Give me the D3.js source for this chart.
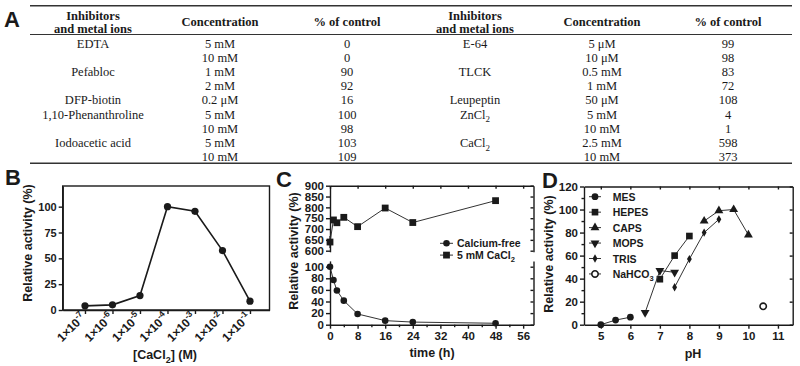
<!DOCTYPE html>
<html>
<head>
<meta charset="utf-8">
<script src="https://cdn.jsdelivr.net/npm/d3@7"></script>
<style>
  body { margin: 0; background: #fff; }
  svg { display: block; }
</style>
</head>
<body>
<svg id="fig" width="800" height="366"></svg>
<script>
// ---------- data ----------
// A: inhibitor table (left half / right half)
const leftNames = ['EDTA', '', 'Pefabloc', '', 'DFP-biotin', '1,10-Phenanthroline', '', 'Iodoacetic acid', ''];
const leftConc  = ['5 mM', '10 mM', '1 mM', '2 mM', '0.2 μM', '5 mM', '10 mM', '5 mM', '10 mM'];
const leftPct   = ['0', '0', '90', '92', '16', '100', '98', '103', '109'];
const rightNames = ['E-64', '', 'TLCK', '', 'Leupeptin', 'ZnCl_2', '', 'CaCl_2', ''];
const rightConc  = ['5 μM', '10 μM', '0.5 mM', '1 mM', '50 μM', '5 mM', '10 mM', '2.5 mM', '10 mM'];
const rightPct   = ['99', '98', '83', '72', '108', '4', '1', '598', '373'];

// B: CaCl2 concentration series
const caExponents = [-7, -6, -5, -4, -3, -2, -1];
const caActivity  = [4, 5, 14, 100, 95.5, 57.5, 8.5];

// C: stability over time
const timeH        = [0, 1, 2, 4, 8, 16, 24, 48];
const calciumFree  = [100, 77, 59, 41.5, 18.5, 7, 4.5, 2.5];
const withCaCl2    = [640, 742, 729, 754, 711, 797, 730, 831];
const withCaCl2Err = [28, 0, 0, 0, 0, 0, 0, 0];

// D: pH profile, one pair of arrays per buffer
const mesPH = [5, 5.5, 6],           mesAct = [0, 4, 6.5];
const mopsPH = [6.5, 7, 7.5],        mopsAct = [10.5, 47, 45.5];
const hepesPH = [7, 7.5, 8],         hepesAct = [39.5, 60, 77];
const trisPH = [7.5, 8, 8.5, 9],     trisAct = [32.5, 57, 80, 91.5];
const capsPH = [8.5, 9, 9.5, 10],    capsAct = [90, 99, 100, 78];
const nahco3PH = [10.5],             nahco3Act = [16];

const SANS = "'Liberation Sans', Arial, sans-serif";
const SERIF = "'Liberation Serif', 'Times New Roman', serif";
const INK = '#1a1a1a';

const svg = d3.select('#fig');

// text with _2 subscripts and ^{..} superscripts
function rich(sel, str, size) {
  const parts = str.split(/(_\d|\^\{[^}]*\})/).filter(p => p !== '');
  let shift = 0;
  parts.forEach(p => {
    if (p[0] === '_') {
      sel.append('tspan').attr('dy', size * 0.3 - shift).attr('font-size', size * 0.72).text(p.slice(1));
      shift = size * 0.3;
    } else if (p[0] === '^') {
      sel.append('tspan').attr('dy', -size * 0.42 - shift).attr('font-size', size * 0.72).text(p.slice(2, -1));
      shift = -size * 0.42;
    } else {
      sel.append('tspan').attr('dy', -shift).text(p);
      shift = 0;
    }
  });
}

function styleAxis(g, size) {
  g.attr('font-family', SANS).attr('font-size', size).attr('font-weight', 'bold')
    .attr('color', INK);
  g.selectAll('path, line').attr('stroke-width', 1.4);
}

function panelLabel(txt, x, y) {
  svg.append('text').attr('x', x).attr('y', y)
    .attr('font-family', SANS).attr('font-weight', 'bold').attr('font-size', 22)
    .attr('fill', INK).text(txt);
}

function yTitle(x, y) {
  svg.append('text')
    .attr('transform', `translate(${x},${y}) rotate(-90)`)
    .attr('text-anchor', 'middle')
    .attr('font-family', SANS).attr('font-weight', 'bold').attr('font-size', 12.5)
    .attr('fill', INK).text('Relative activity (%)');
}

// =========================================================
//  A — table
// =========================================================
panelLabel('A', 4, 27);
const ruleX = [30, 792];
const rule = (y, w) => svg.append('line')
  .attr('x1', ruleX[0]).attr('x2', ruleX[1]).attr('y1', y).attr('y2', y)
  .attr('stroke', '#333').attr('stroke-width', w);
rule(5.7, 1.5);
rule(34.5, 1);
rule(163.3, 1.5);

const colX = { left: [93, 220, 347], right: [475, 602, 728] };
const tableFont = 12.5;
const rowY = i => 47.6 + i * 14.18;

['left', 'right'].forEach(side => {
  const [cn, cc, cp] = colX[side];
  const head = svg.append('g')
    .attr('font-family', SERIF).attr('font-weight', 'bold').attr('font-size', tableFont)
    .attr('fill', INK).attr('text-anchor', 'middle');
  head.append('text').attr('x', cn).attr('y', 19.5).text('Inhibitors');
  head.append('text').attr('x', cn).attr('y', 32.5).text('and metal ions');
  head.append('text').attr('x', cc).attr('y', 26).text('Concentration');
  head.append('text').attr('x', cp).attr('y', 26).text('% of control');

  const names = side === 'left' ? leftNames : rightNames;
  const conc = side === 'left' ? leftConc : rightConc;
  const pct = side === 'left' ? leftPct : rightPct;
  const body = svg.append('g')
    .attr('font-family', SERIF).attr('font-size', tableFont)
    .attr('fill', INK).attr('text-anchor', 'middle');
  names.forEach((n, i) => {
    if (n) rich(body.append('text').attr('x', cn).attr('y', rowY(i)), n, tableFont);
    body.append('text').attr('x', cc).attr('y', rowY(i)).text(conc[i]);
    body.append('text').attr('x', cp).attr('y', rowY(i)).text(pct[i]);
  });
});

// =========================================================
//  B — activity vs CaCl2
// =========================================================
panelLabel('B', 5, 185);
{
  const x = d3.scaleLog().domain([10 ** -7.81, 10 ** -0.29]).range([62.7, 269.5]);
  const y = d3.scaleLinear().domain([0, 120]).range([310, 186]);
  const conc = caExponents.map(e => 10 ** e);

  // frame
  svg.append('rect').attr('x', 62.7).attr('y', 186).attr('width', 269.5 - 62.7).attr('height', 310 - 186)
    .attr('fill', 'none').attr('stroke', INK).attr('stroke-width', 1.4);

  svg.append('g').attr('transform', 'translate(62.7,0)')
    .call(d3.axisLeft(y).tickValues([0, 25, 50, 75, 100]).tickSize(4).tickPadding(2).tickSizeOuter(0))
    .call(g => styleAxis(g, 11));

  const xa = svg.append('g').attr('transform', 'translate(0,310)')
    .call(d3.axisBottom(x).tickValues(conc).tickFormat(() => '').tickSize(4).tickSizeOuter(0))
    .call(g => styleAxis(g, 12));
  xa.selectAll('.tick').each(function (d, i) {
    const t = d3.select(this).append('text')
      .attr('fill', INK).attr('text-anchor', 'end')
      .attr('transform', 'translate(1,8) rotate(-45)');
    rich(t, `1×10^{${caExponents[i]}}`, 12);
  });

  svg.append('path').datum(caActivity)
    .attr('fill', 'none').attr('stroke', INK).attr('stroke-width', 1.6)
    .attr('d', d3.line().x((d, i) => x(conc[i])).y(d => y(d)));
  svg.append('g').selectAll('circle').data(caActivity).join('circle')
    .attr('cx', (d, i) => x(conc[i])).attr('cy', d => y(d)).attr('r', 3.6).attr('fill', INK);

  yTitle(32, 243);
  const xt = svg.append('text').attr('x', 165).attr('y', 359).attr('text-anchor', 'middle')
    .attr('font-family', SANS).attr('font-weight', 'bold').attr('font-size', 12.5).attr('fill', INK);
  rich(xt, '[CaCl_2] (M)', 12.5);
}

// =========================================================
//  C — stability over time (broken y axis)
// =========================================================
panelLabel('C', 276, 187);
{
  const x = d3.scaleLinear().domain([0, 59]).range([330, 533.5]);
  const yUp = d3.scaleLinear().domain([600, 900]).range([250.7, 185.7]);
  const yLo = d3.scaleLinear().domain([0, 110]).range([324.7, 260.9]);
  const yUpAxis = yUp.copy().domain([595, 900]).range([yUp(595), yUp(900)]);

  const upTicks = d3.range(600, 901, 50);
  const loTicks = d3.range(0, 101, 20);
  const xTicks = d3.range(0, 57, 8);
  const xMinor = d3.range(4, 57, 8);

  // left axis (two segments)
  svg.append('g').attr('transform', 'translate(330,0)')
    .call(d3.axisLeft(yUpAxis).tickValues(upTicks).tickSize(4).tickPadding(2).tickSizeOuter(0))
    .call(g => styleAxis(g, 11.5));
  svg.append('g').attr('transform', 'translate(330,0)')
    .call(d3.axisLeft(yLo).tickValues(loTicks).tickSize(4).tickPadding(2).tickSizeOuter(0))
    .call(g => styleAxis(g, 11.5));
  // right frame (two segments, inward ticks)
  svg.append('g').attr('transform', 'translate(533.5,0)')
    .call(d3.axisRight(yUpAxis).tickValues(upTicks).tickSize(-3).tickFormat('').tickSizeOuter(0))
    .call(g => styleAxis(g, 11));
  svg.append('g').attr('transform', 'translate(533.5,0)')
    .call(d3.axisRight(yLo).tickValues(loTicks).tickSize(-3).tickFormat('').tickSizeOuter(0))
    .call(g => styleAxis(g, 11));
  // bottom axis
  svg.append('g').attr('transform', 'translate(0,324.7)')
    .call(d3.axisBottom(x).tickValues(xTicks).tickSize(4).tickPadding(3).tickSizeOuter(0))
    .call(g => styleAxis(g, 11.5));
  svg.append('g').attr('transform', 'translate(0,324.7)')
    .call(d3.axisBottom(x).tickValues(xMinor).tickSize(2.5).tickFormat('').tickSizeOuter(0))
    .call(g => styleAxis(g, 11)).call(g => g.select('.domain').remove());
  // top frame
  svg.append('g').attr('transform', 'translate(0,185.7)')
    .call(d3.axisTop(x).tickValues(xTicks).tickSize(-3).tickFormat('').tickSizeOuter(0))
    .call(g => styleAxis(g, 11));

  // calcium-free (circles, lower segment)
  svg.append('path').datum(calciumFree)
    .attr('fill', 'none').attr('stroke', '#333').attr('stroke-width', 1)
    .attr('d', d3.line().x((d, i) => x(timeH[i])).y(d => yLo(d)));
  svg.append('g').selectAll('circle').data(calciumFree).join('circle')
    .attr('cx', (d, i) => x(timeH[i])).attr('cy', d => yLo(d)).attr('r', 3.3).attr('fill', INK);

  // 5 mM CaCl2 (squares, upper segment)
  svg.append('g').selectAll('line').data(withCaCl2).join('line')
    .attr('x1', (d, i) => x(timeH[i])).attr('x2', (d, i) => x(timeH[i]))
    .attr('y1', (d, i) => yUp(d - withCaCl2Err[i])).attr('y2', (d, i) => yUp(d + withCaCl2Err[i]))
    .attr('stroke', INK).attr('stroke-width', 1.2);
  svg.append('path').datum(withCaCl2)
    .attr('fill', 'none').attr('stroke', '#333').attr('stroke-width', 1)
    .attr('d', d3.line().x((d, i) => x(timeH[i])).y(d => yUp(d)));
  svg.append('g').selectAll('rect').data(withCaCl2).join('rect')
    .attr('x', (d, i) => x(timeH[i]) - 3.4).attr('y', d => yUp(d) - 3.4)
    .attr('width', 6.8).attr('height', 6.8).attr('fill', INK);

  // legend
  const lg = svg.append('g').attr('font-family', SANS).attr('font-weight', 'bold')
    .attr('font-size', 10.5).attr('fill', INK);
  [['Calcium-free', 'circle'], ['5 mM CaCl_2', 'square']].forEach(([lab, shape], i) => {
    const ly = 243.3 + i * 11.8;
    lg.append('line').attr('x1', 440).attr('x2', 453).attr('y1', ly).attr('y2', ly)
      .attr('stroke', '#333').attr('stroke-width', 1);
    if (shape === 'circle') lg.append('circle').attr('cx', 446.5).attr('cy', ly).attr('r', 3.3);
    else lg.append('rect').attr('x', 443.1).attr('y', ly - 3.4).attr('width', 6.8).attr('height', 6.8);
    rich(lg.append('text').attr('x', 457).attr('y', ly + 4), lab, 10.5);
  });

  yTitle(298, 251);
  svg.append('text').attr('x', 432).attr('y', 357).attr('text-anchor', 'middle')
    .attr('font-family', SANS).attr('font-weight', 'bold').attr('font-size', 12.5).attr('fill', INK)
    .text('time (h)');
}

// =========================================================
//  D — pH profile
// =========================================================
panelLabel('D', 542, 188);
{
  const x = d3.scaleLinear().domain([4.43, 11.5]).range([584, 792.7]);
  const y = d3.scaleLinear().domain([0, 120]).range([324.7, 186.5]);
  const yTicks = d3.range(0, 121, 20);
  const xTicks = d3.range(5, 12, 1);

  svg.append('g').attr('transform', 'translate(584,0)')
    .call(d3.axisLeft(y).tickValues(yTicks).tickSize(4).tickPadding(2).tickSizeOuter(0))
    .call(g => styleAxis(g, 11.5));
  svg.append('g').attr('transform', 'translate(584,0)')
    .call(d3.axisLeft(y).tickValues(d3.range(10, 120, 20)).tickSize(2.5).tickFormat('').tickSizeOuter(0))
    .call(g => styleAxis(g, 11)).call(g => g.select('.domain').remove());
  svg.append('g').attr('transform', 'translate(0,324.7)')
    .call(d3.axisBottom(x).tickValues(xTicks).tickFormat(d3.format('d'))
      .tickSize(4).tickPadding(3).tickSizeOuter(0))
    .call(g => styleAxis(g, 11.5));
  svg.append('g').attr('transform', 'translate(792.7,0)')
    .call(d3.axisRight(y).tickValues(yTicks).tickSize(-3).tickFormat('').tickSizeOuter(0))
    .call(g => styleAxis(g, 11));
  svg.append('g').attr('transform', 'translate(0,186.5)')
    .call(d3.axisTop(x).tickValues(xTicks).tickSize(-3).tickFormat('').tickSizeOuter(0))
    .call(g => styleAxis(g, 11));

  const sym = {
    circle: d3.symbol(d3.symbolCircle, 36)(),
    square: d3.symbol(d3.symbolSquare, 44)(),
    triangle: d3.symbol(d3.symbolTriangle, 34)(),
    down: d3.symbol(d3.symbolTriangle, 34)(),
    diamond: d3.symbol(d3.symbolDiamond, 20)(),
    open: d3.symbol(d3.symbolCircle, 32)()
  };
  const buffers = [
    { name: 'MES', ph: mesPH, act: mesAct, shape: 'circle' },
    { name: 'HEPES', ph: hepesPH, act: hepesAct, shape: 'square' },
    { name: 'CAPS', ph: capsPH, act: capsAct, shape: 'triangle' },
    { name: 'MOPS', ph: mopsPH, act: mopsAct, shape: 'down' },
    { name: 'TRIS', ph: trisPH, act: trisAct, shape: 'diamond' },
    { name: 'NaHCO_3', ph: nahco3PH, act: nahco3Act, shape: 'open' }
  ];
  const marker = (g, shape, cx, cy) => {
    const p = g.append('path').attr('d', sym[shape])
      .attr('transform', `translate(${cx},${cy})${shape === 'down' ? ' rotate(180)' : ''}`);
    if (shape === 'open') p.attr('fill', '#fff').attr('stroke', INK).attr('stroke-width', 1.6);
    else p.attr('fill', INK);
  };

  buffers.forEach(b => {
    if (b.ph.length > 1) {
      svg.append('path').datum(b.act)
        .attr('fill', 'none').attr('stroke', '#333').attr('stroke-width', 1)
        .attr('d', d3.line().x((d, i) => x(b.ph[i])).y(d => y(d)));
    }
    const g = svg.append('g');
    b.act.forEach((d, i) => marker(g, b.shape, x(b.ph[i]), y(d)));
  });

  // legend
  const lg = svg.append('g').attr('font-family', SANS).attr('font-weight', 'bold')
    .attr('font-size', 10.5).attr('fill', INK);
  buffers.forEach((b, i) => {
    const ly = 196.7 + i * 15.45;
    lg.append('line').attr('x1', 589).attr('x2', 601).attr('y1', ly).attr('y2', ly)
      .attr('stroke', '#333').attr('stroke-width', 1);
    marker(lg, b.shape, 595, ly);
    rich(lg.append('text').attr('x', 612.7).attr('y', ly + 4), b.name, 10.5);
  });

  yTitle(553, 254);
  svg.append('text').attr('x', 693).attr('y', 358).attr('text-anchor', 'middle')
    .attr('font-family', SANS).attr('font-weight', 'bold').attr('font-size', 12.5).attr('fill', INK)
    .text('pH');
}
</script>
</body>
</html>
